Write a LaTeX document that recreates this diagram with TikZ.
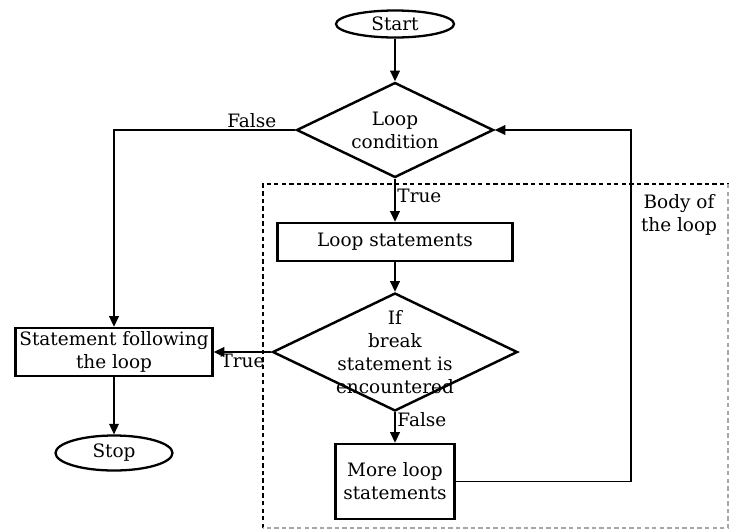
\documentclass[tikz,border=0pt]{standalone}
\usepackage{fontspec}
\setmainfont{DejaVu Serif}
\usetikzlibrary{shapes.geometric,arrows.meta,positioning}
\tikzset{
  term/.style={ellipse,draw,line width=1.3pt,inner sep=0pt},
  procbox/.style={rectangle,draw,line width=1.4pt,align=center,inner sep=0pt},
  decide/.style={diamond,draw,line width=1.4pt,inner sep=0pt},
  flow/.style={-{Triangle[length=6pt,width=5.5pt]},line width=0.8pt},
  lbl/.style={inner sep=1pt}
}

\begin{document}
\begin{tikzpicture}[x=0.02cm,y=-0.02cm,font=\fontsize{10.5}{13}\selectfont]
  \useasboundingbox (0,0) rectangle (729,531);
  % body of the loop
  \draw[line width=1pt,dash pattern=on 2.5pt off 1.8pt] (263,528) -- (263,184) -- (729,184);
  \draw[gray!70,line width=0.6pt,dash pattern=on 2.5pt off 1.8pt] (728,184) -- (728,528) -- (263,528);
  \node[align=center] (bodytxt) at (679,215) {Body of\\the loop};

  \node[term,minimum width=2.36cm,minimum height=0.54cm] (start) at (395,24) {Start};
  \node[decide,minimum width=3.94cm,minimum height=1.9cm] (cond) at (395,130) {};
  \node[align=center] (condtxt) at (cond.center) {Loop\\condition};
  \node[procbox,minimum width=4.7cm,minimum height=0.76cm] (body) at (395,242) {Loop statements};
  \node[decide,minimum width=4.9cm,minimum height=2.36cm] (brk) at (395,352) {};
  \node[align=center] (brktxt) at (brk.center) {If\\break\\statement is\\encountered};
  \node[procbox,minimum width=2.38cm,minimum height=1.5cm] (more) at (395,481.5) {More loop\\statements};
  \node[procbox,minimum width=3.94cm,minimum height=0.96cm] (after) at (114,352) {Statement following\\the loop};
  \node[term,minimum width=2.34cm,minimum height=0.7cm] (stop) at (114,453) {Stop};
  \coordinate (ret) at (631,130);

  \draw[flow] (start) -- (cond);
  \draw[flow] (cond) -- node[lbl,anchor=west,pos=0.4] {True} (body);
  \draw[flow] (body) -- (brk);
  \draw[flow] (brk) -- node[lbl,anchor=west,pos=0.25] {False} (more);
  \draw[flow] (brk.west) -- node[lbl,below] {True} (after.east);
  \draw[flow] (cond.west) -| node[lbl,above,pos=0.12] {False} (after.north);
  \draw[flow] (after) -- (stop);
  \draw[flow] (more.east) -| (ret) -- (cond.east);
\end{tikzpicture}
\end{document}
